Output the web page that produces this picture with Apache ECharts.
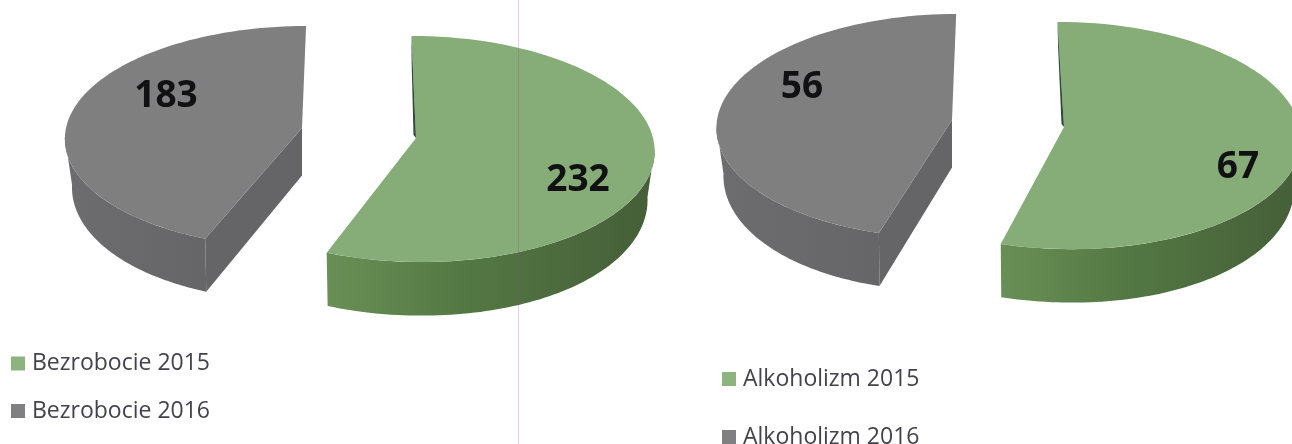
<!DOCTYPE html>
<html><head><meta charset="utf-8">
<style>html,body{margin:0;padding:0;background:#fff;overflow:hidden}#c{width:1292px;height:444px}</style>
<script src="https://cdn.jsdelivr.net/npm/echarts@6/dist/echarts.min.js"></script>
</head><body><div id="c"></div>
<script>
const bezrobocieNames = ['Bezrobocie 2015', 'Bezrobocie 2016'];
const bezrobocieValues = [232, 183];
const alkoholizmNames = ['Alkoholizm 2015', 'Alkoholizm 2016'];
const alkoholizmValues = [67, 56];

const GREEN = {top:'#86ac78', legend:'#8db37f',
  wall:[[0,'#6a8f56'],[0.4,'#547944'],[1,'#455e38']], sliver:'#2f4a35'};
const GRAY = {top:'#7f7f80', legend:'#808082', wall:[[0,'#6d6d6f'],[1,'#666668']], flat:'#656567'};

// screen layout of each exploded slice: apex, radii, perspective, skew
const layout = {
  'Bezrobocie 2015': {cx:416,cy:138,rx:237,ry:112,k:.097,s:-5,lx:578,ly:180},
  'Bezrobocie 2016': {cx:302,cy:128,rx:236,ry:110,k:.079,s:4.4,lx:166,ly:96},
  'Alkoholizm 2015': {cx:1064,cy:127,rx:236,ry:113,k:.075,s:-7,lx:1238,ly:167},
  'Alkoholizm 2016': {cx:952,cy:120,rx:235,ry:111.6,k:.053,s:4.4,lx:802,ly:87}
};

function project(g, th, r, lower) {
  const u = r*Math.sin(th), v = r*Math.cos(th), w = 1 + g.k*v;
  const f = lower ? 1 - .03*Math.abs(u) : 1;
  const x = g.cx + f*(g.rx*u + g.s*v)/w;
  let y = g.cy - g.ry*v/w;
  if (lower) y += 47.5 - 5.5*v/w;
  return [x, y];
}
function rim(g, a, b, lower) {
  const pts = [], n = 80;
  for (let i = 0; i <= n; i++) pts.push(project(g, a + (b-a)*i/n, 1, lower));
  return pts;
}
const D = Math.PI/180;
function sliceElements(name, value, a0, a1, pal) {
  const g = layout[name], kids = [];
  const tilt = Math.asin(g.k);
  const v0 = Math.max(a0, 90*D + tilt), v1 = Math.min(a1, 270*D - tilt);
  const grad = new echarts.graphic.LinearGradient(0,0,1,0,pal.wall.map(s=>({offset:s[0],color:s[1]})));
  kids.push({type:'polygon', shape:{points:rim(g,v0,v1,false).concat(rim(g,v0,v1,true).reverse())}, style:{fill:grad}});
  if (pal.flat) {
    kids.push({type:'polygon', shape:{points:[project(g,0,0,false),project(g,a0,1,false),project(g,a0,1,true),project(g,0,0,true)]}, style:{fill:pal.flat}});
  }
  const top = [project(g,0,0,false)].concat(rim(g,a0,a1,false));
  kids.push({type:'polygon', shape:{points:top}, style:{fill:pal.top}});
  if (pal.sliver) {
    const p0 = project(g,a0,0.72,false), p1 = project(g,0,0,false);
    kids.push({type:'polygon', shape:{points:[project(g,a0,1,false),p1,[p1[0]-2.5,p1[1]-3],[p0[0]-1,p0[1]]]}, style:{fill:pal.sliver}});
  }
  kids.push({type:'text', x:g.lx, y:g.ly, style:{text:String(value), align:'center', verticalAlign:'middle',
    font:'bold 37px "Open Sans"', fill:'#111114'}});
  return {type:'group', children:kids};
}
function makeSeries(names, values) {
  const total = values[0] + values[1];
  const split = 360*values[0]/total*D;
  return [
    {type:'custom', coordinateSystem:'none', name:names[1], data:[values[1]], silent:true, z:2,
     itemStyle:{color:GRAY.legend},
     renderItem:(p,api)=>sliceElements(names[1], api.value(0), split, 360*D, GRAY)},
    {type:'custom', coordinateSystem:'none', name:names[0], data:[values[0]], silent:true, z:3,
     itemStyle:{color:GREEN.legend},
     renderItem:(p,api)=>sliceElements(names[0], api.value(0), 0, split, GREEN)}
  ];
}
const legendBase = {orient:'vertical', icon:'rect', itemWidth:14, itemHeight:14, selectedMode:false, padding:0, height:120,
  textStyle:{fontFamily:'"Open Sans"', fontSize:23, color:'#43434b', padding:[0,0,0,2]}};
const chart = echarts.init(document.getElementById('c'), null, {renderer:'canvas'});
chart.setOption({
  animation:false, backgroundColor:'#ffffff',
  legend:[
    Object.assign({}, legendBase, {data:bezrobocieNames, left:11, top:352, itemGap:24.5}),
    Object.assign({}, legendBase, {data:alkoholizmNames, left:722, top:367.5, itemGap:35})
  ],
  graphic:[{type:'line', z:50, silent:true, shape:{x1:518.5,y1:0,x2:518.5,y2:444},
    style:{stroke:'rgba(170,70,150,0.28)', lineWidth:1}}],
  series: makeSeries(bezrobocieNames, bezrobocieValues).concat(makeSeries(alkoholizmNames, alkoholizmValues))
});
</script></body></html>
